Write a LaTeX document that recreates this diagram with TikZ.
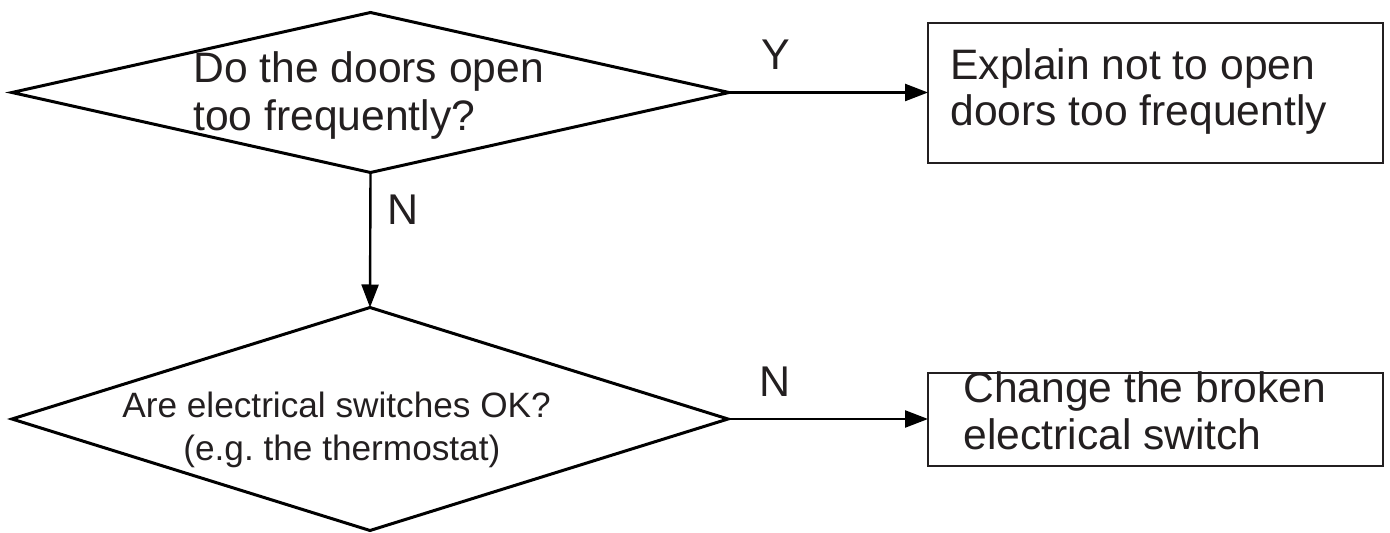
\documentclass[tikz,border=0pt]{standalone}
\usepackage{fontspec}
\setmainfont{Liberation Sans}
\usetikzlibrary{shapes.geometric,arrows.meta}
\definecolor{ink}{HTML}{231F20}
\frenchspacing
\tikzset{
  decision/.style={diamond, draw=black, line width=1.5pt, inner sep=0pt, outer sep=0pt},
  actionbox/.style={rectangle, draw=ink, line width=1.3pt, inner sep=0pt, outer sep=0pt},
  bigtext/.style={anchor=base west, inner sep=0pt, text=ink, font=\fontsize{21.3}{24}\selectfont},
  smalltext/.style={anchor=base west, inner sep=0pt, text=ink, font=\fontsize{17.6}{20}\selectfont},
  edgelabel/.style={anchor=base, inner sep=0pt, text=ink, font=\fontsize{21.5}{24}\selectfont},
  flow/.style={draw=black, line width=1.2pt, -{Triangle[length=11.5pt,width=8.5pt]}}
}
\begin{document}
\begin{tikzpicture}[x=0.5pt,y=-0.5pt]
\useasboundingbox (0,0) rectangle (1390,533);
% decisions
\node[decision, minimum width=358.5pt, minimum height=80pt] (d1) at (370.5,92.5) {};
\node[decision, minimum width=358pt, minimum height=111.5pt] (d2) at (370,419) {};
% action boxes
\node[actionbox, minimum width=227.5pt, minimum height=70pt] (b1) at (1155.5,93) {};
\node[actionbox, minimum width=227.5pt, minimum height=46.5pt] (b2) at (1155.5,419.5) {};
% texts
\node[bigtext] (t1a) at (193,83) {Do the doors open};
\node[bigtext] (t1b) at (193,131) {too frequently?};
\node[smalltext] (t2a) at (122,417) {Are electrical switches OK?};
\node[smalltext] (t2b) at (183,460) {(e.g. the thermostat)};
\node[bigtext] (t3a) at (950,80) {Explain not to open};
\node[bigtext] (t3b) at (950,126) {doors too frequently};
\node[bigtext] (t4a) at (963,403) {Change the broken};
\node[bigtext] (t4b) at (963,450) {electrical switch};
% connectors
\draw[flow] (d1.east) -- (d1.east -| b1.west);
\draw[flow] (d1.south) -- (d2.north);
\draw[flow] (d2.east) -- (d2.east -| b2.west);
% labels
\node[edgelabel] (ly) at (776,70) {Y};
\node[edgelabel] (ln1) at (403.5,225) {N};
\node[edgelabel] (ln2) at (775,397) {N};
\end{tikzpicture}
\end{document}
